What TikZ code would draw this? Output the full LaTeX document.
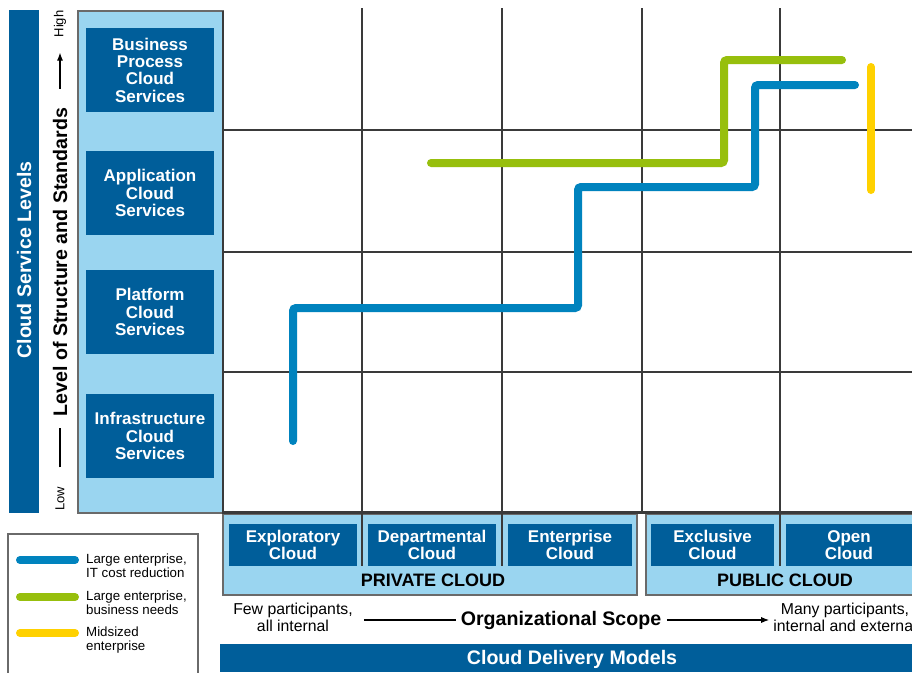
\documentclass[tikz,border=0pt]{standalone}
\usepackage{fontspec}
\setmainfont{Liberation Sans}
\usetikzlibrary{arrows.meta}
\definecolor{dkblue}{HTML}{005E9A}
\definecolor{ltblue}{HTML}{9AD5F0}
\definecolor{lnblue}{HTML}{0083BE}
\definecolor{lngreen}{HTML}{97BF0D}
\definecolor{lnyellow}{HTML}{FFD100}
\definecolor{gridc}{HTML}{3A3A3A}
\definecolor{panelb}{HTML}{6A6A6A}
\begin{document}
\begin{tikzpicture}[x=1pt,y=1pt,
  svcbox/.style={fill=dkblue, text=white, font=\fontsize{17}{17.3}\selectfont\bfseries, align=center, inner sep=0pt, minimum width=128pt, minimum height=84pt},
  dlvbox/.style={fill=dkblue, text=white, font=\fontsize{17}{16.8}\selectfont\bfseries, align=center, inner sep=0pt, minimum height=42pt},
  panel/.style={fill=ltblue, draw=panelb, line width=1.2pt},
  gridline/.style={draw=gridc, line width=1.1pt},
  trend/.style={line width=8pt, line cap=round, rounded corners=3pt},
  legline/.style={line width=8pt, line cap=round},
  legtext/.style={anchor=west, align=left, font=\fontsize{13.3}{14}\selectfont, inner sep=0pt},
  scopetext/.style={align=center, font=\fontsize{15.8}{17}\selectfont, inner sep=0pt},
  axistext/.style={rotate=90, inner sep=0pt},
  cloudlbl/.style={font=\fontsize{18}{18}\selectfont\bfseries, inner sep=0pt}
]
\useasboundingbox (0,0) rectangle (912,-672);
\clip (0,0) rectangle (912,-672);
\fill[white] (0,0) rectangle (912,-672);

% left dark bar
\node[fill=dkblue, minimum width=30pt, minimum height=503pt, inner sep=0pt] (svbar) at (24,-261.5) {};
\node[axistext, text=white, font=\fontsize{19.6}{20}\selectfont\bfseries] (svlabel) at (24,-260) {Cloud Service Levels};

% axis label
\node[axistext, font=\fontsize{13}{15}\selectfont] (low) at (60,-499) {Low};
\node[axistext, font=\fontsize{19.6}{20}\selectfont\bfseries] (lvl) at (60,-262) {Level of Structure and Standards};
\node[axistext, font=\fontsize{13}{15}\selectfont] (high) at (60,-24) {High};
\draw[line width=1.1pt, shorten <=19.5pt, shorten >=12pt] (low.east) -- (lvl.west);
\draw[line width=1.1pt, -{Latex[length=8pt,width=6pt]}, shorten <=19pt, shorten >=15pt] (lvl.east) -- (high.west);

% light panel with service boxes
\draw[panel] (78,-11) rectangle (223,-513);
\node[svcbox] (bp) at (150,-70) {Business\\Process\\Cloud\\Services};
\node[svcbox] (app) at (150,-193) {Application\\Cloud\\Services};
\node[svcbox] (plat) at (150,-312) {Platform\\Cloud\\Services};
\node[svcbox] (infra) at (150,-436) {Infrastructure\\Cloud\\Services};

% bottom panels
\draw[panel] (223,-514) rectangle (637,-595);
\draw[panel] (646,-514) rectangle (920,-595);
\node[dlvbox, minimum width=128pt] (expl) at (293,-545) {Exploratory\\Cloud};
\node[dlvbox, minimum width=128pt] (dept) at (432,-545) {Departmental\\Cloud};
\node[dlvbox, minimum width=124pt] (ent) at (570,-545) {Enterprise\\Cloud};
\node[dlvbox, minimum width=123pt] (excl) at (712.5,-545) {Exclusive\\Cloud};
\node[dlvbox, minimum width=126pt] (open) at (849,-545) {Open\\Cloud};
\node[cloudlbl] (priv) at (433,-580) {PRIVATE CLOUD};
\node[cloudlbl] (pub) at (785,-580) {PUBLIC CLOUD};

% grid
\foreach \gx in {362,502,642,780} \draw[gridline] (\gx,-8) -- (\gx,-512);
\foreach \gx in {362,502,780} \draw[gridline] (\gx,-512) -- (\gx,-566);
\foreach \gy in {130,252,372} \draw[gridline] (223,-\gy) -- (912,-\gy);
\draw[draw=gridc, line width=1.6pt] (223,-11) -- (223,-513);
\draw[draw=gridc, line width=3pt] (222,-512) -- (912,-512);

% trend lines
\coordinate (b0) at (293,-441);
\coordinate (b1) at (855,-85);
\draw[trend, lnblue] (b0) |- (578,-308) |- (755,-187) |- (b1);
\coordinate (g0) at (431,-163);
\coordinate (g1) at (842,-60);
\draw[trend, lngreen] (g0) -| (724,-60) -- (g1);
\coordinate (y0) at (871,-67);
\coordinate (y1) at (871,-190);
\draw[trend, lnyellow] (y0) -- (y1);

% organizational scope
\node[scopetext] (few) at (293,-617.5) {Few participants,\\all internal};
\node[font=\fontsize{19.6}{20}\selectfont\bfseries, inner sep=0pt] (org) at (561,-620) {Organizational Scope};
\node[scopetext] (many) at (845,-617.5) {Many participants,\\internal and external};
\draw[line width=1.1pt, shorten <=11pt, shorten >=4.5pt] (org.west -| few.east) -- (org.west);
\draw[line width=1.1pt, -{Latex[length=8pt,width=6pt]}, shorten <=5.5pt, shorten >=4pt] (org.east) -- (org.east -| many.west);

% bottom bar
\node[fill=dkblue, minimum width=692pt, minimum height=28pt, inner sep=0pt] (dbar) at (566,-658) {};
\node[text=white, font=\fontsize{19.6}{20}\selectfont\bfseries, inner sep=0pt] (dlabel) at (572,-659) {Cloud Delivery Models};

% legend
\draw[draw=panelb, line width=1.2pt] (8,-534) rectangle (198,-690);
\draw[legline, lnblue] (20,-560) -- (75,-560);
\draw[legline, lngreen] (20,-597) -- (75,-597);
\draw[legline, lnyellow] (20,-633) -- (75,-633);
\node[legtext] (l1) at (86,-566) {Large enterprise,\\IT cost reduction};
\node[legtext] (l2) at (86,-603) {Large enterprise,\\business needs};
\node[legtext] (l3) at (86,-640) {Midsized\\enterprise};
\end{tikzpicture}
\end{document}
